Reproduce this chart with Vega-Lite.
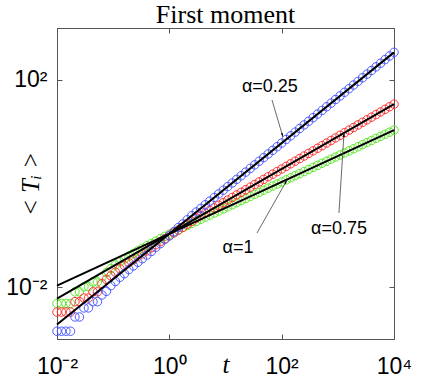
{
  "$schema": "https://vega.github.io/schema/vega-lite/v6.json",
  "width": 337,
  "height": 311,
  "autosize": {"type": "none"},
  "padding": {"left": 57, "top": 28, "right": 42, "bottom": 43},
  "background": "white",
  "title": {"text": "First moment", "font": "Liberation Serif", "fontSize": 26, "fontWeight": "normal", "color": "black", "offset": 0},
  "config": {
    "view": {"stroke": "#555", "strokeWidth": 1},
    "axis": {
      "domainColor": "#555", "tickColor": "#555", "tickSize": -5, "grid": false,
      "labelFont": "Liberation Sans", "labelFontSize": 23, "labelColor": "black",
      "labelFlush": false, "labelOverlap": false, "labelBound": false,
      "titleFont": "Liberation Serif", "titleFontSize": 25, "titleFontWeight": "normal", "titleFontStyle": "italic", "titleColor": "black"
    }
  },
  "datasets": {
    "pts": [
      {"t":0.01,"s":"g","y":0.004842},{"t":0.01202,"s":"g","y":0.004842},{"t":0.01445,"s":"g","y":0.004842},{"t":0.01738,"s":"g","y":0.004842},
      {"t":0.02089,"s":"g","y":0.008128},{"t":0.02512,"s":"g","y":0.008128},{"t":0.0302,"s":"g","y":0.01023},{"t":0.03631,"s":"g","y":0.01023},
      {"t":0.04365,"s":"g","y":0.01259},{"t":0.05248,"s":"g","y":0.01259},{"t":0.0631,"s":"g","y":0.01585},{"t":0.07586,"s":"g","y":0.01905},
      {"t":0.0912,"s":"g","y":0.02291},{"t":0.1096,"s":"g","y":0.02692},{"t":0.1318,"s":"g","y":0.0309},{"t":0.1585,"s":"g","y":0.03508},
      {"t":0.1905,"s":"g","y":0.03981},{"t":0.2291,"s":"g","y":0.04467},{"t":0.2754,"s":"g","y":0.05012},{"t":0.3311,"s":"g","y":0.05623},
      {"t":0.3981,"s":"g","y":0.0631},{"t":0.4786,"s":"g","y":0.06998},{"t":0.5754,"s":"g","y":0.07762},{"t":0.6918,"s":"g","y":0.0861},
      {"t":0.8318,"s":"g","y":0.0955},{"t":1,"s":"g","y":0.1047},{"t":1.202,"s":"g","y":0.1148},{"t":1.445,"s":"g","y":0.1274},
      {"t":1.738,"s":"g","y":0.1413},{"t":2.089,"s":"g","y":0.1549},{"t":2.512,"s":"g","y":0.1698},{"t":3.02,"s":"g","y":0.1862},
      {"t":3.631,"s":"g","y":0.2042},{"t":4.365,"s":"g","y":0.2239},{"t":5.248,"s":"g","y":0.2455},{"t":6.31,"s":"g","y":0.2692},
      {"t":7.586,"s":"g","y":0.2951},{"t":9.12,"s":"g","y":0.3236},{"t":10.96,"s":"g","y":0.3548},{"t":13.18,"s":"g","y":0.389},
      {"t":15.85,"s":"g","y":0.4266},{"t":19.05,"s":"g","y":0.4677},{"t":22.91,"s":"g","y":0.5129},{"t":27.54,"s":"g","y":0.5623},
      {"t":33.11,"s":"g","y":0.6166},{"t":39.81,"s":"g","y":0.6761},{"t":47.86,"s":"g","y":0.7413},{"t":57.54,"s":"g","y":0.8128},
      {"t":69.18,"s":"g","y":0.8913},{"t":83.18,"s":"g","y":0.9772},{"t":100,"s":"g","y":1.0715},{"t":120.2,"s":"g","y":1.1749},
      {"t":144.5,"s":"g","y":1.2882},{"t":173.8,"s":"g","y":1.4125},{"t":208.9,"s":"g","y":1.5488},{"t":251.2,"s":"g","y":1.6982},
      {"t":302,"s":"g","y":1.8621},{"t":363.1,"s":"g","y":2.0417},{"t":436.5,"s":"g","y":2.2387},{"t":524.8,"s":"g","y":2.4547},
      {"t":631,"s":"g","y":2.6915},{"t":758.6,"s":"g","y":2.9512},{"t":912,"s":"g","y":3.2359},{"t":1096,"s":"g","y":3.5481},
      {"t":1318,"s":"g","y":3.8905},{"t":1585,"s":"g","y":4.2658},{"t":1905,"s":"g","y":4.6774},{"t":2291,"s":"g","y":5.1286},
      {"t":2754,"s":"g","y":5.6234},{"t":3311,"s":"g","y":6.166},{"t":3981,"s":"g","y":6.7608},{"t":4786,"s":"g","y":7.4131},
      {"t":5754,"s":"g","y":8.1283},{"t":6918,"s":"g","y":8.9125},{"t":8318,"s":"g","y":9.7724},{"t":10000,"s":"g","y":10.715},

      {"t":0.01,"s":"r","y":0.003311},{"t":0.01202,"s":"r","y":0.003311},{"t":0.01445,"s":"r","y":0.003311},{"t":0.01738,"s":"r","y":0.003311},
      {"t":0.02089,"s":"r","y":0.005248},{"t":0.02512,"s":"r","y":0.005248},{"t":0.0302,"s":"r","y":0.006166},{"t":0.03631,"s":"r","y":0.006166},
      {"t":0.04365,"s":"r","y":0.008128},{"t":0.05248,"s":"r","y":0.008128},{"t":0.0631,"s":"r","y":0.01175},{"t":0.07586,"s":"r","y":0.01413},
      {"t":0.0912,"s":"r","y":0.0166},{"t":0.1096,"s":"r","y":0.0195},{"t":0.1318,"s":"r","y":0.02265},{"t":0.1585,"s":"r","y":0.026},
      {"t":0.1905,"s":"r","y":0.02951},{"t":0.2291,"s":"r","y":0.03388},{"t":0.2754,"s":"r","y":0.0389},{"t":0.3311,"s":"r","y":0.04416},
      {"t":0.3981,"s":"r","y":0.05012},{"t":0.4786,"s":"r","y":0.05754},{"t":0.5754,"s":"r","y":0.06607},{"t":0.6918,"s":"r","y":0.07586},
      {"t":0.8318,"s":"r","y":0.0861},{"t":1,"s":"r","y":0.09772},{"t":1.202,"s":"r","y":0.1109},{"t":1.445,"s":"r","y":0.1259},
      {"t":1.738,"s":"r","y":0.1429},{"t":2.089,"s":"r","y":0.1641},{"t":2.512,"s":"r","y":0.1862},{"t":3.02,"s":"r","y":0.2138},
      {"t":3.631,"s":"r","y":0.2399},{"t":4.365,"s":"r","y":0.2692},{"t":5.248,"s":"r","y":0.302},{"t":6.31,"s":"r","y":0.3388},
      {"t":7.586,"s":"r","y":0.3802},{"t":9.12,"s":"r","y":0.4266},{"t":10.96,"s":"r","y":0.4786},{"t":13.18,"s":"r","y":0.537},
      {"t":15.85,"s":"r","y":0.6026},{"t":19.05,"s":"r","y":0.6761},{"t":22.91,"s":"r","y":0.7586},{"t":27.54,"s":"r","y":0.8511},
      {"t":33.11,"s":"r","y":0.955},{"t":39.81,"s":"r","y":1.0715},{"t":47.86,"s":"r","y":1.2023},{"t":57.54,"s":"r","y":1.349},
      {"t":69.18,"s":"r","y":1.5136},{"t":83.18,"s":"r","y":1.6982},{"t":100,"s":"r","y":1.9055},{"t":120.2,"s":"r","y":2.138},
      {"t":144.5,"s":"r","y":2.3988},{"t":173.8,"s":"r","y":2.6915},{"t":208.9,"s":"r","y":3.02},{"t":251.2,"s":"r","y":3.3884},
      {"t":302,"s":"r","y":3.8019},{"t":363.1,"s":"r","y":4.2658},{"t":436.5,"s":"r","y":4.7863},{"t":524.8,"s":"r","y":5.3703},
      {"t":631,"s":"r","y":6.0256},{"t":758.6,"s":"r","y":6.7608},{"t":912,"s":"r","y":7.5858},{"t":1096,"s":"r","y":8.5114},
      {"t":1318,"s":"r","y":9.5499},{"t":1585,"s":"r","y":10.715},{"t":1905,"s":"r","y":12.023},{"t":2291,"s":"r","y":13.49},
      {"t":2754,"s":"r","y":15.136},{"t":3311,"s":"r","y":16.982},{"t":3981,"s":"r","y":19.055},{"t":4786,"s":"r","y":21.38},
      {"t":5754,"s":"r","y":23.988},{"t":6918,"s":"r","y":26.915},{"t":8318,"s":"r","y":30.2},{"t":10000,"s":"r","y":33.884},

      {"t":0.01,"s":"b","y":0.001413},{"t":0.01202,"s":"b","y":0.001413},{"t":0.01445,"s":"b","y":0.001413},{"t":0.01738,"s":"b","y":0.001413},
      {"t":0.02089,"s":"b","y":0.002661},{"t":0.02512,"s":"b","y":0.002661},{"t":0.0302,"s":"b","y":0.003981},{"t":0.03631,"s":"b","y":0.003981},
      {"t":0.04365,"s":"b","y":0.005248},{"t":0.05248,"s":"b","y":0.005248},{"t":0.0631,"s":"b","y":0.007079},{"t":0.07586,"s":"b","y":0.008318},
      {"t":0.0912,"s":"b","y":0.01072},{"t":0.1096,"s":"b","y":0.01288},{"t":0.1318,"s":"b","y":0.01549},{"t":0.1585,"s":"b","y":0.0182},
      {"t":0.1905,"s":"b","y":0.02188},{"t":0.2291,"s":"b","y":0.0257},{"t":0.2754,"s":"b","y":0.0302},{"t":0.3311,"s":"b","y":0.03548},
      {"t":0.3981,"s":"b","y":0.04169},{"t":0.4786,"s":"b","y":0.04898},{"t":0.5754,"s":"b","y":0.05888},{"t":0.6918,"s":"b","y":0.06918},
      {"t":0.8318,"s":"b","y":0.08318},{"t":1,"s":"b","y":0.09772},{"t":1.202,"s":"b","y":0.1175},{"t":1.445,"s":"b","y":0.1413},
      {"t":1.738,"s":"b","y":0.166},{"t":2.089,"s":"b","y":0.1995},{"t":2.512,"s":"b","y":0.2399},{"t":3.02,"s":"b","y":0.2818},
      {"t":3.631,"s":"b","y":0.3311},{"t":4.365,"s":"b","y":0.389},{"t":5.248,"s":"b","y":0.4571},{"t":6.31,"s":"b","y":0.537},
      {"t":7.586,"s":"b","y":0.631},{"t":9.12,"s":"b","y":0.7413},{"t":10.96,"s":"b","y":0.871},{"t":13.18,"s":"b","y":1.0233},
      {"t":15.85,"s":"b","y":1.2023},{"t":19.05,"s":"b","y":1.4125},{"t":22.91,"s":"b","y":1.6596},{"t":27.54,"s":"b","y":1.9498},
      {"t":33.11,"s":"b","y":2.2909},{"t":39.81,"s":"b","y":2.6915},{"t":47.86,"s":"b","y":3.1623},{"t":57.54,"s":"b","y":3.7154},
      {"t":69.18,"s":"b","y":4.3652},{"t":83.18,"s":"b","y":5.1286},{"t":100,"s":"b","y":6.0256},{"t":120.2,"s":"b","y":7.0795},
      {"t":144.5,"s":"b","y":8.3176},{"t":173.8,"s":"b","y":9.7724},{"t":208.9,"s":"b","y":11.482},{"t":251.2,"s":"b","y":13.49},
      {"t":302,"s":"b","y":15.849},{"t":363.1,"s":"b","y":18.621},{"t":436.5,"s":"b","y":21.878},{"t":524.8,"s":"b","y":25.704},
      {"t":631,"s":"b","y":30.2},{"t":758.6,"s":"b","y":35.481},{"t":912,"s":"b","y":41.687},{"t":1096,"s":"b","y":48.978},
      {"t":1318,"s":"b","y":57.544},{"t":1585,"s":"b","y":67.608},{"t":1905,"s":"b","y":79.433},{"t":2291,"s":"b","y":93.325},
      {"t":2754,"s":"b","y":109.65},{"t":3311,"s":"b","y":128.82},{"t":3981,"s":"b","y":151.36},{"t":4786,"s":"b","y":177.83},
      {"t":5754,"s":"b","y":208.93},{"t":6918,"s":"b","y":245.47},{"t":8318,"s":"b","y":288.4},{"t":10000,"s":"b","y":338.84}
    ],
    "fits": [
      {"t":0.01,"s":"b","y":0.001905},{"t":10000,"s":"b","y":338.8},
      {"t":0.01,"s":"r","y":0.006026},{"t":10000,"s":"r","y":33.88},
      {"t":0.01,"s":"g","y":0.01072},{"t":10000,"s":"g","y":10.72}
    ],
    "arrows": [
      {"id":"a25","t":67.3,"y":40.8,"t2":105.4,"y2":7.89},
      {"id":"a75","t":1047,"y":0.27,"t2":1288,"y2":9.42},
      {"id":"a1","t":36.4,"y":0.111,"t2":124.5,"y2":1.168}
    ],
    "labels": [
      {"t":61.7,"y":73.3,"lab":"α=0.25"},
      {"t":1047,"y":0.132,"lab":"α=0.75"},
      {"t":16.7,"y":0.0568,"lab":"α=1"}
    ]
  },
  "resolve": {"scale": {"x": "independent", "y": "independent"}, "axis": {"x": "independent", "y": "independent"}},
  "layer": [
    {
      "data": {"name": "pts"},
      "mark": {"type": "point", "shape": "circle", "filled": false, "size": 72, "strokeWidth": 1, "opacity": 1},
      "encoding": {
        "x": {"field": "t", "type": "quantitative", "scale": {"type": "log", "domain": [0.01, 10000]},
              "axis": {"orient": "bottom", "values": [0.01, 1, 100, 10000], "labelPadding": 21,
                       "labelExpr": "datum.value < 0.1 ? '10⁻²' : datum.value < 10 ? '10⁰' : datum.value < 1000 ? '10²' : '10⁴'",
                       "title": "t", "titleX": 168.5, "titleY": 33, "titleBaseline": "alphabetic"}},
        "y": {"field": "y", "type": "quantitative", "scale": {"type": "log", "domain": [0.001, 1000]},
              "axis": {"orient": "left", "values": [0.01, 100], "labelPadding": 15, "labelBaseline": "middle",
                       "labelExpr": "datum.value < 0.1 ? '10⁻²' : '10²'",
                       "title": "< Tᵢ >", "titleX": -27, "titleY": 155.5, "titleAngle": -90, "titleAlign": "center", "titleBaseline": "middle"}},
        "color": {"field": "s", "type": "nominal", "scale": {"domain": ["g", "r", "b"], "range": ["#5ee82a", "#ff3535", "#4d5cff"]}, "legend": null}
      }
    },
    {
      "data": {"name": "fits"},
      "mark": {"type": "line", "color": "black", "strokeWidth": 2},
      "encoding": {
        "x": {"field": "t", "type": "quantitative", "scale": {"type": "log", "domain": [0.01, 10000]}, "axis": null},
        "y": {"field": "y", "type": "quantitative", "scale": {"type": "log", "domain": [0.001, 1000]}, "axis": null},
        "detail": {"field": "s"}
      }
    },
    {
      "data": {"name": "fits"},
      "mark": {"type": "point", "opacity": 0},
      "encoding": {
        "x": {"field": "t", "type": "quantitative", "scale": {"type": "log", "domain": [0.01, 10000]},
              "axis": {"orient": "top", "values": [0.01, 1, 100, 10000], "labels": false, "domain": false, "title": null}},
        "y": {"field": "y", "type": "quantitative", "scale": {"type": "log", "domain": [0.001, 1000]},
              "axis": {"orient": "right", "values": [0.01, 100], "labels": false, "domain": false, "title": null}}
      }
    },
    {
      "data": {"name": "arrows"},
      "mark": {"type": "rule", "color": "#444", "strokeWidth": 0.8},
      "encoding": {
        "x": {"field": "t", "type": "quantitative", "scale": {"type": "log", "domain": [0.01, 10000]}, "axis": null},
        "y": {"field": "y", "type": "quantitative", "scale": {"type": "log", "domain": [0.001, 1000]}, "axis": null},
        "x2": {"field": "t2"},
        "y2": {"field": "y2"}
      }
    },
    {
      "data": {"name": "arrows"},
      "transform": [{"filter": "datum.id == 'a25'"}],
      "mark": {"type": "point", "shape": "M0,0L0.25,1L-0.25,1Z", "filled": true, "color": "black", "size": 64, "opacity": 1, "angle": 163},
      "encoding": {
        "x": {"field": "t2", "type": "quantitative", "scale": {"type": "log", "domain": [0.01, 10000]}, "axis": null},
        "y": {"field": "y2", "type": "quantitative", "scale": {"type": "log", "domain": [0.001, 1000]}, "axis": null}
      }
    },
    {
      "data": {"name": "arrows"},
      "transform": [{"filter": "datum.id == 'a75'"}],
      "mark": {"type": "point", "shape": "M0,0L0.25,1L-0.25,1Z", "filled": true, "color": "black", "size": 64, "opacity": 1, "angle": 3},
      "encoding": {
        "x": {"field": "t2", "type": "quantitative", "scale": {"type": "log", "domain": [0.01, 10000]}, "axis": null},
        "y": {"field": "y2", "type": "quantitative", "scale": {"type": "log", "domain": [0.001, 1000]}, "axis": null}
      }
    },
    {
      "data": {"name": "arrows"},
      "transform": [{"filter": "datum.id == 'a1'"}],
      "mark": {"type": "point", "shape": "M0,0L0.25,1L-0.25,1Z", "filled": true, "color": "black", "size": 64, "opacity": 1, "angle": 30},
      "encoding": {
        "x": {"field": "t2", "type": "quantitative", "scale": {"type": "log", "domain": [0.01, 10000]}, "axis": null},
        "y": {"field": "y2", "type": "quantitative", "scale": {"type": "log", "domain": [0.001, 1000]}, "axis": null}
      }
    },
    {
      "data": {"name": "labels"},
      "mark": {"type": "text", "font": "Liberation Sans", "fontSize": 18, "color": "black", "align": "center", "baseline": "middle"},
      "encoding": {
        "x": {"field": "t", "type": "quantitative", "scale": {"type": "log", "domain": [0.01, 10000]}, "axis": null},
        "y": {"field": "y", "type": "quantitative", "scale": {"type": "log", "domain": [0.001, 1000]}, "axis": null},
        "text": {"field": "lab"}
      }
    }
  ]
}
